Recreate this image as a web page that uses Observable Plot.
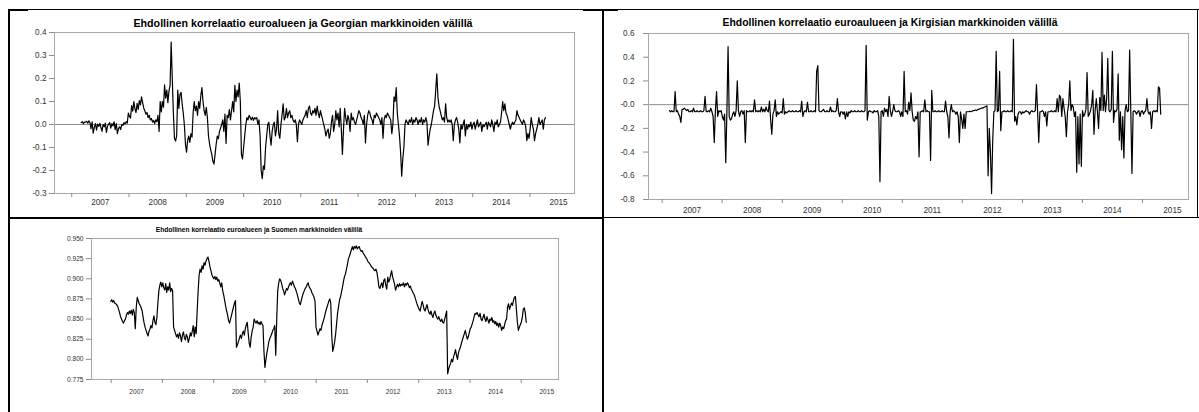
<!DOCTYPE html>
<html>
<head>
<meta charset="utf-8">
<script src="https://cdn.jsdelivr.net/npm/d3@7"></script>
<script src="https://cdn.jsdelivr.net/npm/@observablehq/plot@0.6"></script>
<style>
  html, body { margin: 0; padding: 0; background: #fff; }
  #page { position: relative; width: 1199px; height: 412px; overflow: hidden; background: #fff;
          font-family: "Liberation Sans", Arial, sans-serif; }
  .rule { position: absolute; background: #000; }
  .title { position: absolute; font-weight: bold; color: #000; white-space: nowrap; line-height: 1;
           transform: translateX(-50%); }
  .panel { position: absolute; max-width: none !important; }
</style>
</head>
<body>
<div id="page"></div>
<script>
// ---- data -----------------------------------------------------------------

const years = [2007, 2008, 2009, 2010, 2011, 2012, 2013, 2014, 2015];

const titles = [
  "Ehdollinen korrelaatio euroalueen ja Georgian markkinoiden välillä",
  "Ehdollinen korrelaatio euroaulueen ja Kirgisian markkinoiden välillä",
  "Ehdollinen korrelaatio euroalueen ja Suomen markkinoiden välillä"
];

// weekly conditional correlation, euro area vs Georgia
const georgiaFirstWeek = "2007-03-02";
const georgiaValues = [
  0.008, 0.012, 0.004, 0.010,
  0.010, 0.014, 0.006, 0.016, 0.008, -0.018, 0.012, -0.038, -0.012, 0.004, -0.024, 0.002, -0.008,
  0.005, -0.012, -0.030, 0.000, -0.010, 0.006, -0.034, -0.008, 0.002, 0.008, -0.016, 0.004, -0.006,
  0.012, -0.022, 0.004, -0.040, -0.018, -0.010, -0.022, 0.000, -0.004, 0.008, 0.002, 0.012, 0.006,
  0.050, 0.035, 0.028, 0.082, 0.058, 0.100, 0.068, 0.052, 0.092, 0.066, 0.104, 0.085, 0.120,
  0.095, 0.072, 0.060, 0.045, 0.052, 0.030, 0.040, 0.020, 0.026, 0.010, 0.018, 0.004, 0.020,
  0.012, 0.040, -0.030, 0.100, 0.055, 0.100, 0.075, 0.172, 0.115, 0.150, 0.095, 0.145, 0.170,
  0.358, 0.200, 0.050, -0.060, -0.072, -0.050, 0.150, 0.070, 0.130, 0.140, 0.090, 0.050, 0.000,
  -0.085, -0.120, -0.070, -0.050, -0.078, -0.040, -0.055, 0.050, 0.100, 0.060, 0.080, 0.040, 0.100,
  0.070, 0.125, 0.160, 0.100, 0.060, 0.040, 0.075, 0.030, -0.050, -0.085, -0.110, -0.130, -0.160,
  -0.172, -0.130, -0.085, -0.050, -0.062, -0.030, -0.015, 0.000, 0.020, -0.030, 0.045, -0.082, 0.040,
  0.030, 0.065, 0.020, 0.060, 0.100, 0.055, 0.170, 0.100, 0.150, 0.120, 0.180, 0.100, -0.130,
  -0.150, -0.100, -0.050, 0.000, 0.030, 0.020, 0.040, 0.030, 0.020, 0.032, 0.018, 0.030, 0.025,
  0.030, 0.000, 0.020, -0.050, -0.200, -0.235, -0.180, -0.195, -0.100, -0.050, 0.000, 0.010, -0.050,
  -0.090, -0.030, 0.000, 0.010, -0.050, -0.020, 0.060, -0.040, -0.060, 0.000, 0.040, 0.090, 0.020,
  0.030, 0.070, 0.030, 0.050, 0.060, 0.030, 0.040, 0.020, 0.010, 0.020, 0.000, -0.075, 0.000,
  0.020, 0.010, 0.000, 0.020, 0.030, 0.040, 0.060, 0.030, 0.070, 0.080, 0.050, 0.040, 0.060,
  0.050, 0.070, 0.040, 0.080, 0.050, 0.030, 0.060, 0.040, 0.020, 0.000, -0.020, -0.050, -0.030,
  -0.020, -0.060, -0.040, 0.010, 0.040, -0.030, 0.000, 0.060, 0.020, 0.050, -0.010, 0.070, -0.020,
  -0.130, -0.020, 0.070, 0.030, 0.000, 0.040, 0.020, -0.030, 0.050, 0.020, 0.030, 0.010, 0.000,
  0.020, 0.040, 0.060, 0.050, 0.030, 0.020, 0.000, 0.040, -0.080, 0.000, 0.040, 0.060, 0.050,
  0.030, 0.020, 0.000, 0.040, 0.030, 0.050, 0.040, 0.030, 0.020, 0.000, 0.030, -0.060, 0.020,
  0.040, 0.030, 0.050, 0.040, 0.030, 0.020, -0.040, 0.000, 0.120, 0.100, 0.160, 0.050, 0.000,
  -0.050, -0.120, -0.225, -0.150, -0.100, 0.000, 0.020, 0.010, 0.000, 0.020, 0.010, 0.030, 0.000,
  0.020, 0.010, 0.030, 0.020, 0.000, 0.020, 0.010, 0.030, 0.000, 0.020, 0.010, 0.030, 0.010,
  -0.090, -0.050, -0.020, 0.000, 0.030, 0.060, 0.080, 0.150, 0.220, 0.120, 0.080, 0.060, 0.040,
  0.020, 0.030, 0.010, 0.090, 0.030, 0.010, 0.020, 0.010, 0.020, 0.000, -0.070, 0.000, 0.020,
  0.030, 0.010, -0.020, -0.080, 0.000, -0.020, 0.000, 0.020, -0.050, 0.000, -0.020, 0.000, -0.010,
  0.010, -0.020, 0.000, 0.010, -0.020, 0.000, 0.020, -0.010, 0.000, 0.010, -0.030, 0.000, -0.010,
  0.000, 0.010, -0.020, 0.010, 0.000, -0.010, 0.020, 0.000, -0.030, 0.010, 0.000, 0.020, -0.010,
  0.000, 0.010, 0.050, 0.100, 0.060, 0.090, 0.050, 0.040, 0.020, 0.000, -0.020, 0.000, 0.010,
  0.000, 0.010, 0.020, 0.060, 0.040, 0.030, 0.020, 0.010, 0.000, 0.020, 0.010, -0.010, -0.070,
  -0.040, -0.060, -0.020, 0.030, 0.000, -0.020, -0.070, -0.040, -0.020, 0.000, 0.030, 0.000, 0.010,
  0.020, -0.020, 0.020, 0.030
];
const georgiaTicks = [-0.3, -0.2, -0.1, 0, 0.1, 0.2, 0.3, 0.4];
const georgiaTickLabels = ["-0.3", "-0.2", "-0.1", "0.0", "0.1", "0.2", "0.3", "0.4"];

// weekly conditional correlation, euro area vs Kyrgyzstan
const kyrgyzFirstWeek = "2007-02-14";
const kyrgyzValues = [
  -0.05, -0.06, -0.05, -0.06, -0.06, 0.11, -0.06, -0.05, -0.08, -0.10,
  -0.15, -0.04, -0.04, -0.03, -0.04, -0.05, -0.04, -0.06, -0.06, -0.05,
  -0.06, -0.03, -0.06, -0.06, -0.05, -0.06, -0.06, -0.05, -0.06, -0.06,
  -0.05, 0.07, -0.06, -0.06, -0.05, -0.06, -0.03, -0.06, -0.10, -0.32,
  -0.05, 0.11, -0.10, -0.05, -0.06, -0.05, -0.10, -0.13, -0.08, -0.49,
  -0.05, 0.49, -0.10, -0.13, -0.12, -0.08, -0.06, -0.10, -0.05, 0.20,
  -0.05, -0.10, -0.06, -0.05, -0.08, -0.05, -0.32, -0.05, -0.06, -0.06,
  -0.05, -0.06, -0.05, -0.06, 0.04, -0.06, -0.05, -0.06, -0.05, -0.06,
  -0.02, -0.06, -0.04, -0.06, -0.02, -0.05, -0.06, 0.03, -0.13, -0.25,
  -0.08, -0.05, 0.04, -0.10, -0.06, -0.08, -0.07, -0.06, -0.07, 0.05,
  -0.08, -0.06, -0.07, -0.06, -0.05, -0.06, -0.06, -0.05, -0.06, -0.06,
  -0.05, -0.06, -0.06, -0.05, -0.06, 0.03, -0.10, -0.06, -0.05, -0.06,
  0.02, -0.06, -0.06, -0.05, -0.06, -0.06, -0.05, -0.06, 0.28, 0.33,
  -0.05, -0.06, -0.06, -0.05, -0.04, -0.06, -0.06, -0.05, -0.06, -0.06,
  -0.02, -0.06, -0.05, -0.06, -0.06, -0.05, 0.05, -0.06, -0.10, -0.06,
  -0.06, -0.08, -0.06, -0.12, -0.06, -0.10, -0.06, -0.07, -0.05, -0.06,
  -0.06, -0.05, -0.06, -0.06, -0.05, -0.06, -0.06, -0.05, -0.06, -0.06,
  -0.05, 0.50, -0.13, -0.06, -0.05, -0.06, -0.06, -0.07, -0.05, -0.06,
  -0.06, -0.05, -0.10, -0.65, -0.06, -0.05, -0.10, -0.03, -0.06, -0.04,
  -0.10, 0.07, -0.05, -0.10, -0.06, 0.00, -0.05, -0.06, -0.06, -0.05,
  -0.06, -0.10, -0.06, -0.10, 0.28, -0.06, -0.05, -0.08, 0.02, -0.05,
  0.10, -0.06, -0.13, -0.14, -0.10, -0.12, -0.06, -0.44, -0.06, -0.06,
  -0.05, -0.06, 0.04, -0.06, -0.05, -0.06, -0.06, -0.47, 0.12, -0.06,
  -0.06, -0.05, -0.06, -0.06, -0.05, -0.06, -0.06, -0.05, -0.06, -0.06,
  0.03, -0.06, -0.10, -0.28, -0.06, 0.00, -0.06, -0.05, -0.06, -0.08,
  -0.06, -0.10, -0.32, -0.06, -0.12, -0.20, -0.08, -0.20, -0.06, -0.06,
  -0.06, -0.055, -0.06, -0.055, -0.05, -0.05, -0.045, -0.05, -0.04, -0.04,
  -0.035, -0.03, -0.03, -0.025, -0.02, -0.015, -0.01, -0.60, -0.20, -0.40,
  -0.75, -0.30, -0.06, -0.05, 0.45, -0.06, -0.05, 0.28, -0.22, -0.06,
  -0.06, -0.05, -0.06, -0.06, -0.05, -0.06, -0.06, -0.05, -0.06, 0.55,
  -0.14, -0.10, -0.17, -0.08, -0.06, -0.06, -0.08, -0.06, -0.07, -0.06,
  -0.05, -0.06, -0.06, -0.08, -0.06, -0.05, -0.06, -0.06, -0.05, 0.17,
  -0.06, -0.32, -0.06, -0.06, -0.05, -0.06, -0.10, -0.06, -0.18, -0.06,
  -0.06, -0.06, -0.05, -0.06, -0.06, -0.05, -0.06, 0.05, -0.06, 0.08,
  0.06, -0.10, 0.05, -0.03, -0.10, -0.27, -0.06, 0.00, 0.20, -0.05,
  0.00, -0.02, -0.10, -0.06, -0.57, -0.10, -0.50, -0.08, -0.52, -0.05,
  -0.10, -0.08, -0.04, 0.27, -0.10, -0.08, -0.05, 0.00, 0.12, -0.25,
  -0.05, 0.05, -0.06, -0.20, 0.06, -0.05, 0.44, -0.05, 0.08, -0.06,
  0.05, 0.39, -0.05, -0.06, -0.04, 0.45, -0.15, -0.05, -0.06, -0.04,
  0.26, -0.30, -0.06, -0.38, -0.10, -0.45, -0.05, 0.00, -0.06, -0.05,
  0.46, -0.06, -0.58, -0.06, -0.05, -0.06, -0.08, -0.06, -0.05, -0.10,
  -0.06, -0.05, -0.08, -0.06, -0.05, 0.05, -0.06, -0.08, -0.06, -0.20,
  -0.06, -0.05, -0.06, -0.05, -0.06, 0.15, 0.14, -0.08
];
const kyrgyzTicks = [-0.8, -0.6, -0.4, -0.2, 0, 0.2, 0.4, 0.6];
const kyrgyzTickLabels = ["-0.8", "-0.6", "-0.4", "-0.2", "-0.0", "0.2", "0.4", "0.6"];

// weekly conditional correlation, euro area vs Finland
const finlandFirstWeek = "2006-12-29";
const finlandValues = [
  0.872, 0.874, 0.871, 0.873, 0.870, 0.869, 0.868, 0.866,
  0.862, 0.858, 0.853, 0.850, 0.847, 0.845, 0.848, 0.850,
  0.855, 0.858, 0.856, 0.860, 0.857, 0.861, 0.855, 0.862, 0.858, 0.838,
  0.865, 0.877, 0.873, 0.869, 0.867, 0.864,
  0.860, 0.852, 0.845, 0.840, 0.836, 0.832, 0.829, 0.835,
  0.838, 0.842, 0.839, 0.848, 0.854, 0.846, 0.843, 0.852,
  0.870, 0.885, 0.892, 0.896,
  0.890, 0.895, 0.889, 0.886, 0.894, 0.883, 0.890, 0.886, 0.895, 0.884, 0.888, 0.885,
  0.840, 0.836,
  0.832, 0.828, 0.831, 0.826, 0.833, 0.829, 0.822, 0.830, 0.834, 0.827, 0.824,
  0.831, 0.828, 0.821, 0.826, 0.833, 0.829, 0.835, 0.842, 0.828, 0.840, 0.832,
  0.860, 0.885, 0.905, 0.912, 0.908, 0.916, 0.912, 0.920, 0.917, 0.922, 0.925, 0.927,
  0.922, 0.915, 0.910, 0.905, 0.902, 0.900, 0.903, 0.899, 0.902, 0.897, 0.899, 0.895,
  0.890, 0.895, 0.885, 0.880, 0.873, 0.866, 0.860, 0.855, 0.848, 0.845, 0.850, 0.855, 0.860, 0.865, 0.870, 0.873,
  0.815, 0.818, 0.822, 0.826, 0.830, 0.826, 0.832, 0.835, 0.830, 0.838, 0.843, 0.846, 0.832, 0.820, 0.815, 0.828,
  0.835, 0.840, 0.850, 0.847, 0.845, 0.848, 0.844, 0.846, 0.843, 0.847, 0.844, 0.842,
  0.810, 0.790, 0.800, 0.808, 0.815, 0.822, 0.826, 0.829, 0.832, 0.836, 0.838, 0.842,
  0.805, 0.850, 0.885, 0.895, 0.900, 0.898, 0.894, 0.888,
  0.885, 0.880, 0.884, 0.888, 0.886, 0.890, 0.893, 0.895, 0.892, 0.897, 0.894, 0.890,
  0.888, 0.884, 0.880, 0.875, 0.870, 0.868, 0.873, 0.878, 0.882, 0.885, 0.888, 0.890,
  0.893, 0.895, 0.890, 0.888, 0.886, 0.882, 0.880, 0.877, 0.872, 0.840, 0.835, 0.830,
  0.834, 0.838, 0.836, 0.842, 0.846, 0.850, 0.855, 0.860, 0.864, 0.868, 0.872, 0.875, 0.870, 0.830,
  0.810, 0.815, 0.822, 0.832, 0.845, 0.858, 0.866, 0.874, 0.878, 0.884, 0.890, 0.897, 0.903, 0.906,
  0.912, 0.918, 0.925, 0.928, 0.932, 0.936, 0.940, 0.936, 0.940, 0.938,
  0.941, 0.937, 0.939, 0.940, 0.936, 0.934, 0.935, 0.932, 0.930, 0.928,
  0.926, 0.924, 0.921, 0.920, 0.918, 0.916, 0.914, 0.913, 0.911, 0.910, 0.912, 0.908, 0.900, 0.890, 0.888, 0.892,
  0.895, 0.889, 0.898, 0.900, 0.892, 0.887, 0.902, 0.896, 0.899, 0.905, 0.910, 0.902, 0.898, 0.893, 0.886, 0.890,
  0.893, 0.890, 0.894, 0.891, 0.893, 0.892, 0.895, 0.890, 0.894, 0.892, 0.895, 0.893, 0.889, 0.891, 0.887, 0.885,
  0.882, 0.880, 0.876, 0.872, 0.868, 0.865, 0.862, 0.860, 0.866, 0.872, 0.868, 0.862,
  0.860, 0.864, 0.868, 0.862, 0.858, 0.856, 0.860, 0.855, 0.852, 0.857,
  0.860, 0.855, 0.852, 0.850, 0.853, 0.849, 0.847, 0.850, 0.846, 0.845,
  0.850, 0.855, 0.860, 0.782,
  0.788, 0.792, 0.795, 0.800, 0.797, 0.803, 0.807, 0.812, 0.805, 0.800, 0.808, 0.812, 0.815, 0.820,
  0.824, 0.828, 0.832, 0.836, 0.830, 0.825, 0.828, 0.833, 0.838, 0.840, 0.844, 0.848, 0.853, 0.857, 0.856, 0.858,
  0.855, 0.853, 0.857, 0.850, 0.848, 0.852, 0.856, 0.850, 0.847, 0.853, 0.849,
  0.845, 0.850, 0.848, 0.852, 0.846, 0.848, 0.844, 0.847, 0.842, 0.845, 0.840,
  0.845, 0.842, 0.836, 0.840, 0.838, 0.843, 0.848, 0.850,
  0.865, 0.869, 0.862, 0.866, 0.870, 0.867,
  0.873, 0.877, 0.878, 0.862, 0.846, 0.836,
  0.840, 0.843, 0.846, 0.852, 0.862, 0.864, 0.858, 0.846
];
const finlandTicks = [0.775, 0.8, 0.825, 0.85, 0.875, 0.9, 0.925, 0.95];
const finlandTickLabels = ["0.775", "0.800", "0.825", "0.850", "0.875", "0.900", "0.925", "0.950"];

// ---- layout ---------------------------------------------------------------

const page = document.getElementById("page");
const FONT = "'Liberation Sans', Arial, Helvetica, sans-serif";

// cell borders of the surrounding table
function rule(left, top, width, height) {
  const d = document.createElement("div");
  d.className = "rule";
  Object.assign(d.style, {left: left + "px", top: top + "px", width: width + "px", height: height + "px"});
  page.appendChild(d);
}
rule(8, 9, 1191, 1);
rule(8, 9, 20, 2);
rule(583, 9, 35, 2);
rule(8, 9, 2, 403);
rule(602, 9, 2, 403);
rule(8, 217, 596, 2);
rule(604, 217, 595, 1);
rule(1197, 9, 1, 209);

// each panel: svg box on the page and the margins around its plotting frame
const panels = [
  {
    title: titles[0], first: georgiaFirstWeek, values: georgiaValues,
    ticks: georgiaTicks, labels: georgiaTickLabels, yDomain: [-0.3, 0.4], zero: true,
    xDomain: ["2006-09-13", "2015-10-12"],
    box: {left: 0, top: 0, width: 600, height: 215},
    margin: {left: 54, top: 32, right: 26, bottom: 22},
    font: 8.2, yPad: 3, xPad: 6, titleFont: 10.7, titleX: 303, titleBase: 27
  },
  {
    title: titles[1], first: kyrgyzFirstWeek, values: kyrgyzValues,
    ticks: kyrgyzTicks, labels: kyrgyzTickLabels, yDomain: [-0.8, 0.6], zero: true,
    xDomain: ["2006-10-10", "2015-10-08"],
    box: {left: 604, top: 0, width: 595, height: 215},
    margin: {left: 44, top: 33, right: 11, bottom: 16},
    font: 8.2, yPad: 9, xPad: 8, titleFont: 10.4, titleX: 890, titleBase: 27
  },
  {
    title: titles[2], first: finlandFirstWeek, values: finlandValues,
    ticks: finlandTicks, labels: finlandTickLabels, yDomain: [0.775, 0.95], zero: false,
    xDomain: ["2006-08-14", "2015-09-24"],
    box: {left: 10, top: 220, width: 590, height: 190},
    margin: {left: 81, top: 18, right: 42, bottom: 31},
    font: 6.6, yPad: 3, xPad: 10, titleFont: 6.6, titleX: 259, titleBase: 233
  }
];

const yearStarts = years.map(y => new Date(Date.UTC(y, 0, 1)));
const midYears = years.map(y => new Date(Date.UTC(y, 6, 2)));

for (const p of panels) {
  const series = p.values.map((v, i) => ({date: d3.utcDay.offset(new Date(p.first), 7 * i), value: v}));
  const tickText = new Map(p.ticks.map((t, i) => [t, p.labels[i]]));

  const chart = Plot.plot({
    width: p.box.width,
    height: p.box.height,
    marginLeft: p.margin.left,
    marginTop: p.margin.top,
    marginRight: p.margin.right,
    marginBottom: p.margin.bottom,
    style: {background: "transparent", fontFamily: FONT, fontSize: p.font + "px", color: "#333", overflow: "visible"},
    x: {type: "utc", domain: p.xDomain.map(d => new Date(d)), axis: null},
    y: {domain: p.yDomain, axis: null},
    marks: [
      p.zero ? Plot.ruleY([0], {stroke: "#8c8c8c", strokeWidth: 1}) : null,
      Plot.lineY(series, {x: "date", y: "value", stroke: "#000", strokeWidth: 1.2}),
      Plot.frame({stroke: "#a8a8a8"}),
      Plot.axisY(p.ticks, {tickSize: 5, tickPadding: p.yPad, label: null,
        tickFormat: d => tickText.get(d), stroke: "#8c8c8c", fill: "#333"}),
      Plot.axisX(yearStarts, {tickSize: 4, label: null, stroke: "#8c8c8c", fill: "none"}),
      Plot.axisX(midYears, {tickSize: 0, tickPadding: p.xPad, label: null,
        tickFormat: d => String(d.getUTCFullYear()), fill: "#333"})
    ]
  });
  chart.classList.add("panel");
  chart.style.left = p.box.left + "px";
  chart.style.top = p.box.top + "px";
  page.appendChild(chart);

  const t = document.createElement("div");
  t.className = "title";
  t.textContent = p.title;
  t.style.fontSize = p.titleFont + "px";
  t.style.left = p.titleX + "px";
  t.style.top = (p.titleBase - 0.8465 * p.titleFont) + "px";
  page.appendChild(t);
}
</script>
</body>
</html>
